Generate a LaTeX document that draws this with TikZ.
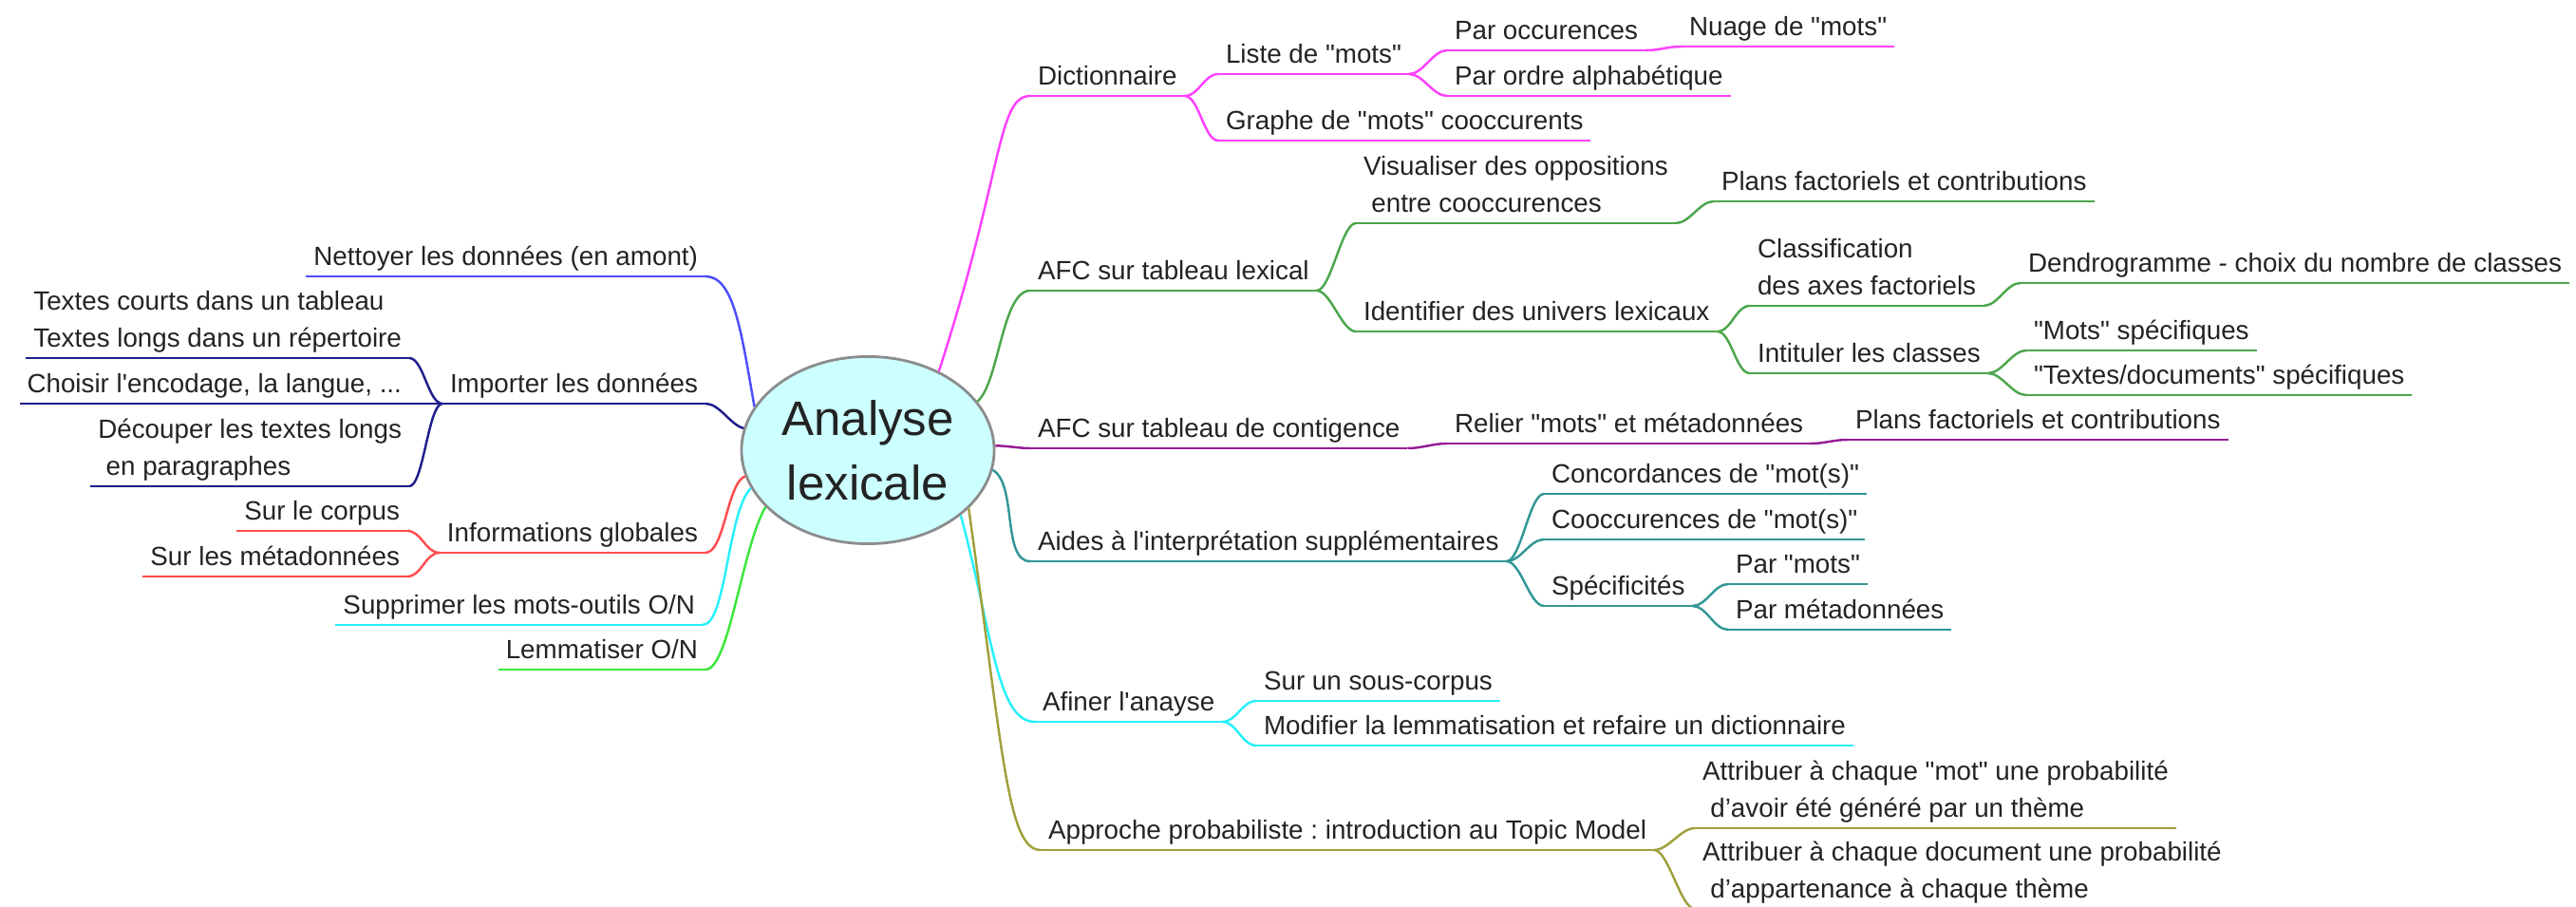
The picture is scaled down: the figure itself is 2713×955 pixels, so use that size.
\documentclass[tikz,border=0pt]{standalone}
\usepackage{fontspec}
\setmainfont{Liberation Sans}[Ligatures=TeXOff]
\frenchspacing
\usetikzlibrary{shapes.geometric}
\definecolor{textdark}{RGB}{35,35,35}
\definecolor{hubfill}{RGB}{204,255,255}
\definecolor{hubgray}{RGB}{140,140,140}
\definecolor{branchpink}{RGB}{255,64,255}
\definecolor{branchgreen}{RGB}{76,166,76}
\definecolor{branchpurple}{RGB}{150,30,150}
\definecolor{branchteal}{RGB}{51,150,150}
\definecolor{branchcyan}{RGB}{40,240,250}
\definecolor{brancholive}{RGB}{160,160,60}
\definecolor{branchblue}{RGB}{77,77,255}
\definecolor{branchnavy}{RGB}{30,30,140}
\definecolor{branchred}{RGB}{255,77,77}
\definecolor{branchlime}{RGB}{60,230,60}

\begin{document}
\begin{tikzpicture}[
    x=0.01cm, y=0.01cm,
    hub/.style={ellipse, draw=hubgray, fill=hubfill, line width=0.8pt, minimum width=2.66cm, minimum height=1.97cm, inner sep=0pt, align=center, text=textdark, font=\fontsize{14.5}{19.3}\selectfont},
    topic/.style={inner xsep=0.8mm, inner ysep=0pt, outer sep=0pt, text=textdark, font=\fontsize{7.9}{11}\selectfont, execute at end node=\strut,
      append after command={(\tikzlastnode.south west) edge[draw=#1, line width=0.7pt] (\tikzlastnode.south east)}},
    trunk/.style={draw=#1, line width=0.7pt},
    twig/.style={draw=#1, line width=0.7pt, to path={.. controls ([xshift=1.5mm]\tikztostart) and ([xshift=-1.5mm]\tikztotarget) .. (\tikztotarget)}}
  ]
    \useasboundingbox (0,0) rectangle (2713,-955);
    \clip (0,0) rectangle (2713,-955);

    % Centre
    \node[hub] (hub) at (914,-474) {Analyse\\lexicale};

    % Left side
    \node[topic=branchblue, anchor=south east] (nettoyer) at (743,-291) {Nettoyer les données (en amont)};
    \node[topic=branchnavy, anchor=south east] (importer) at (743,-425) {Importer les données};
    \node[topic=branchnavy, anchor=south east, align=left] (textes) at (431,-377) {Textes courts dans un tableau\\Textes longs dans un répertoire};
    \node[topic=branchnavy, anchor=south east] (choisir) at (431,-425) {Choisir l'encodage, la langue, ...};
    \node[topic=branchnavy, anchor=south east, align=left] (decouper) at (431,-512) {Découper les textes longs\\\hspace*{0.3em}en paragraphes};
    \node[topic=branchred, anchor=south east] (infos) at (743,-582) {Informations globales};
    \node[topic=branchred, anchor=south east] (corpus) at (429,-559) {Sur le corpus};
    \node[topic=branchred, anchor=south east] (meta) at (429,-607) {Sur les métadonnées};
    \node[topic=branchcyan, anchor=south east] (outils) at (740,-658) {Supprimer les mots-outils O/N};
    \node[topic=branchlime, anchor=south east] (lemme) at (743,-705) {Lemmatiser O/N};

    % Right side
    \node[topic=branchpink, anchor=south west] (dico) at (1085,-101) {Dictionnaire};
    \node[topic=branchpink, anchor=south west] (liste) at (1283,-78) {Liste de "mots"};
    \node[topic=branchpink, anchor=south west] (occur) at (1524,-53) {Par occurences};
    \node[topic=branchpink, anchor=south west] (nuage) at (1771,-49) {Nuage de "mots"};
    \node[topic=branchpink, anchor=south west] (alpha) at (1524,-101) {Par ordre alphabétique};
    \node[topic=branchpink, anchor=south west] (graphe) at (1283,-148) {Graphe de "mots" cooccurents};

    \node[topic=branchgreen, anchor=south west] (afclex) at (1085,-306) {AFC sur tableau lexical};
    \node[topic=branchgreen, anchor=south west, align=left] (opposi) at (1428,-235) {Visualiser des oppositions\\\hspace*{0.3em}entre cooccurences};
    \node[topic=branchgreen, anchor=south west] (plans) at (1805,-212) {Plans factoriels et contributions};
    \node[topic=branchgreen, anchor=south west] (univers) at (1428,-349) {Identifier des univers lexicaux};
    \node[topic=branchgreen, anchor=south west, align=left] (classif) at (1843,-322) {Classification\\des axes factoriels};
    \node[topic=branchgreen, anchor=south west] (dendro) at (2128,-298) {Dendrogramme - choix du nombre de classes};
    \node[topic=branchgreen, anchor=south west] (intit) at (1843,-393) {Intituler les classes};
    \node[topic=branchgreen, anchor=south west] (specmots) at (2134,-369) {"Mots" spécifiques};
    \node[topic=branchgreen, anchor=south west] (spectextes) at (2134,-416) {"Textes/documents" spécifiques};

    \node[topic=branchpurple, anchor=south west] (afccont) at (1085,-472) {AFC sur tableau de contigence};
    \node[topic=branchpurple, anchor=south west] (relier) at (1524,-467) {Relier "mots" et métadonnées};
    \node[topic=branchpurple, anchor=south west] (plansbis) at (1946,-463) {Plans factoriels et contributions};

    \node[topic=branchteal, anchor=south west] (aides) at (1085,-591) {Aides à l'interprétation supplémentaires};
    \node[topic=branchteal, anchor=south west] (concord) at (1626,-520) {Concordances de "mot(s)"};
    \node[topic=branchteal, anchor=south west] (cooccur) at (1626,-568) {Cooccurences de "mot(s)"};
    \node[topic=branchteal, anchor=south west] (specif) at (1626,-638) {Spécificités};
    \node[topic=branchteal, anchor=south west] (parmots) at (1820,-615) {Par "mots"};
    \node[topic=branchteal, anchor=south west] (parmeta) at (1820,-663) {Par métadonnées};

    \node[topic=branchcyan, anchor=south west] (affiner) at (1090,-760) {Afiner l'anayse};
    \node[topic=branchcyan, anchor=south west] (souscorpus) at (1323,-738) {Sur un sous-corpus};
    \node[topic=branchcyan, anchor=south west] (modif) at (1323,-785) {Modifier la lemmatisation et refaire un dictionnaire};

    \node[topic=brancholive, anchor=south west] (approche) at (1096,-895) {Approche probabiliste : introduction au Topic Model};
    \node[topic=brancholive, anchor=south west, align=left] (motproba) at (1785,-872) {Attribuer à chaque "mot" une probabilité\\\hspace*{0.3em}d’avoir été généré par un thème};
    \node[topic=brancholive, anchor=south west, align=left] (docproba) at (1785,-957) {Attribuer à chaque document une probabilité\\\hspace*{0.3em}d’appartenance à chaque thème};

    % Trunks
    \draw[trunk=branchpink] (hub.48) to[out=72, in=180, out distance=2.2cm, in distance=0.35cm] (dico.south west);
    \draw[trunk=branchgreen] (hub.24) to[out=40, in=180, out distance=0.3cm, in distance=0.3cm] (afclex.south west);
    \draw[trunk=branchpurple] (hub.2) to[out=0, in=180, out distance=0.12cm, in distance=0.12cm] (afccont.south west);
    \draw[trunk=branchteal] (hub.-9) to[out=-30, in=180, out distance=0.3cm, in distance=0.3cm] (aides.south west);
    \draw[trunk=branchcyan] (hub.-35) to[out=-75, in=180, out distance=1.3cm, in distance=0.4cm] (affiner.south west);
    \draw[trunk=brancholive] (hub.-30) to[out=-82, in=180, out distance=2.6cm, in distance=0.35cm] (approche.south west);
    \draw[trunk=branchblue] (nettoyer.south east) to[out=0, in=100, out distance=0.3cm, in distance=0.8cm] (hub.159);
    \draw[trunk=branchnavy] (importer.south east) to[out=0, in=165, out distance=0.15cm, in distance=0.15cm] (hub.170);
    \draw[trunk=branchred] (infos.south east) to[out=0, in=200, out distance=0.2cm, in distance=0.2cm] (hub.192);
    \draw[trunk=branchcyan] (outils.south east) to[out=0, in=225, out distance=0.25cm, in distance=0.35cm] (hub.198);
    \draw[trunk=branchlime] (lemme.south east) to[out=0, in=240, out distance=0.25cm, in distance=0.5cm] (hub.209);

    % Twigs
    \draw[twig=branchnavy] (textes.south east) to (importer.south west);
    \draw[twig=branchnavy] (choisir.south east) to (importer.south west);
    \draw[twig=branchnavy] (decouper.south east) to (importer.south west);
    \draw[twig=branchred] (corpus.south east) to (infos.south west);
    \draw[twig=branchred] (meta.south east) to (infos.south west);

    \draw[twig=branchpink] (dico.south east) to (liste.south west);
    \draw[twig=branchpink] (dico.south east) to (graphe.south west);
    \draw[twig=branchpink] (liste.south east) to (occur.south west);
    \draw[twig=branchpink] (liste.south east) to (alpha.south west);
    \draw[twig=branchpink] (occur.south east) to (nuage.south west);
    \draw[twig=branchgreen] (afclex.south east) to (opposi.south west);
    \draw[twig=branchgreen] (afclex.south east) to (univers.south west);
    \draw[twig=branchgreen] (opposi.south east) to (plans.south west);
    \draw[twig=branchgreen] (univers.south east) to (classif.south west);
    \draw[twig=branchgreen] (univers.south east) to (intit.south west);
    \draw[twig=branchgreen] (classif.south east) to (dendro.south west);
    \draw[twig=branchgreen] (intit.south east) to (specmots.south west);
    \draw[twig=branchgreen] (intit.south east) to (spectextes.south west);
    \draw[twig=branchpurple] (afccont.south east) to (relier.south west);
    \draw[twig=branchpurple] (relier.south east) to (plansbis.south west);
    \draw[twig=branchteal] (aides.south east) to (concord.south west);
    \draw[twig=branchteal] (aides.south east) to (cooccur.south west);
    \draw[twig=branchteal] (aides.south east) to (specif.south west);
    \draw[twig=branchteal] (specif.south east) to (parmots.south west);
    \draw[twig=branchteal] (specif.south east) to (parmeta.south west);
    \draw[twig=branchcyan] (affiner.south east) to (souscorpus.south west);
    \draw[twig=branchcyan] (affiner.south east) to (modif.south west);
    \draw[twig=brancholive] (approche.south east) to (motproba.south west);
    \draw[twig=brancholive] (approche.south east) to (docproba.south west);
  \end{tikzpicture}
\end{document}
